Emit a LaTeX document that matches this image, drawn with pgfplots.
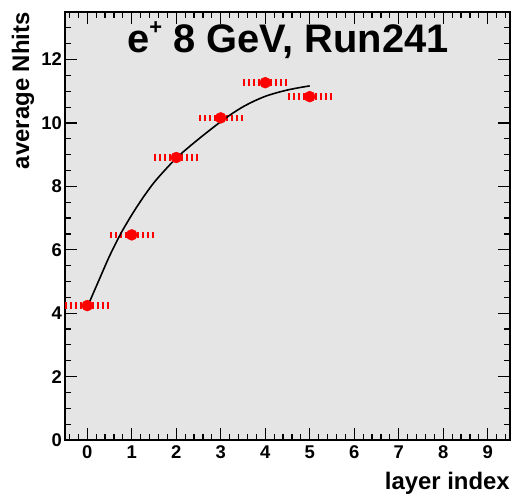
\documentclass[border=0pt]{standalone}
\usepackage{fontspec}
\setmainfont{Liberation Sans}
\usepackage{pgfplots}
\pgfplotsset{compat=1.18}
\definecolor{rootgray}{RGB}{229,229,229}
\begin{document}
\begin{tikzpicture}
\path[draw=none] (-65bp,-57bp) rectangle (449bp,440bp);
\begin{axis}[
 at={(0,0)}, anchor=south west,
 scale only axis, width=445bp, height=428bp,
 xmin=-0.5, xmax=9.5, ymin=0, ymax=13.5,
 xtick={0,1,2,3,4,5,6,7,8,9}, ytick={0,2,4,6,8,10,12},
 xticklabels={0,1,2,3,4,5,6,7,8,9}, yticklabels={0,2,4,6,8,10,12},
 major tick style={draw=none},
 axis line style={line width=2bp},
 axis background/.style={fill=rootgray},
 tick label style={font=\bfseries\fontsize{18.5}{20}\selectfont},
 xticklabel style={anchor=base, yshift=-18bp},
 yticklabel style={anchor=east, inner sep=0pt, xshift=-3bp},
 clip=false,
]
\addplot[only marks, mark=*, mark size=5.5bp, red, mark options={draw=red, fill=red},
 error bars/.cd, x dir=both, x explicit, error mark=none,
 error bar style={red, line width=6.5bp, dash pattern=on 2.2bp off 2.8bp}]
 coordinates {
 (0,4.24) +- (0.5,0)
 (1,6.47) +- (0.5,0)
 (2,8.91) +- (0.5,0)
 (3,10.16) +- (0.5,0)
 (4,11.27) +- (0.5,0)
 (5,10.83) +- (0.5,0)
 };
\addplot[black, line width=1.6bp, smooth, tension=0.5, no marks] coordinates {
 (0,4.19) (0.25,5.0) (0.5,5.8) (0.75,6.5) (1,7.1) (1.25,7.64) (1.5,8.12) (1.75,8.52)
 (2,8.89) (2.25,9.2) (2.5,9.49) (2.75,9.77) (3,10.04) (3.25,10.29) (3.5,10.51)
 (3.75,10.69) (4,10.84) (4.25,10.95) (4.5,11.04) (4.75,11.11) (5,11.17)
 };
% tick marks of the frame (major and minor, bottom/top and left/right)
\pgfplotsinvokeforeach{0,1,2,3,4,5,6,7,8,9}{
 \draw[black, line width=1.2bp] (axis cs:#1,0) -- ([yshift=12bp]axis cs:#1,0);
 \draw[black, line width=1.2bp] (axis cs:#1,13.5) -- ([yshift=-12bp]axis cs:#1,13.5);
}
\pgfplotsinvokeforeach{-0.4,-0.2,0.2,0.4,0.6,0.8,1.2,1.4,1.6,1.8,2.2,2.4,2.6,2.8,3.2,3.4,3.6,3.8,4.2,4.4,4.6,4.8,5.2,5.4,5.6,5.8,6.2,6.4,6.6,6.8,7.2,7.4,7.6,7.8,8.2,8.4,8.6,8.8,9.2,9.4}{
 \draw[black, line width=1.2bp] (axis cs:#1,0) -- ([yshift=6bp]axis cs:#1,0);
 \draw[black, line width=1.2bp] (axis cs:#1,13.5) -- ([yshift=-6bp]axis cs:#1,13.5);
}
\pgfplotsinvokeforeach{2,4,6,8,10,12}{
 \draw[black, line width=1.2bp] (axis cs:-0.5,#1) -- ([xshift=12bp]axis cs:-0.5,#1);
 \draw[black, line width=1.2bp] (axis cs:9.5,#1) -- ([xshift=-12bp]axis cs:9.5,#1);
}
\pgfplotsinvokeforeach{0.5,1,1.5,2.5,3,3.5,4.5,5,5.5,6.5,7,7.5,8.5,9,9.5,10.5,11,11.5,12.5,13}{
 \draw[black, line width=1.2bp] (axis cs:-0.5,#1) -- ([xshift=6bp]axis cs:-0.5,#1);
 \draw[black, line width=1.2bp] (axis cs:9.5,#1) -- ([xshift=-6bp]axis cs:9.5,#1);
}
\end{axis}
\node[anchor=base east, inner sep=0pt, font=\bfseries\fontsize{24}{24}\selectfont] at (445bp,-49bp) {layer index};
\node[rotate=90, anchor=base east, inner sep=0pt, font=\bfseries\fontsize{24}{24}\selectfont] at (-36bp,428bp) {average Nhits};
\node[anchor=base west, inner sep=0pt, font=\bfseries\fontsize{40}{40}\selectfont] at (62bp,387bp) {e\raisebox{18bp}{\fontsize{22}{22}\selectfont +} 8 GeV, Run241};
\end{tikzpicture}
\end{document}
